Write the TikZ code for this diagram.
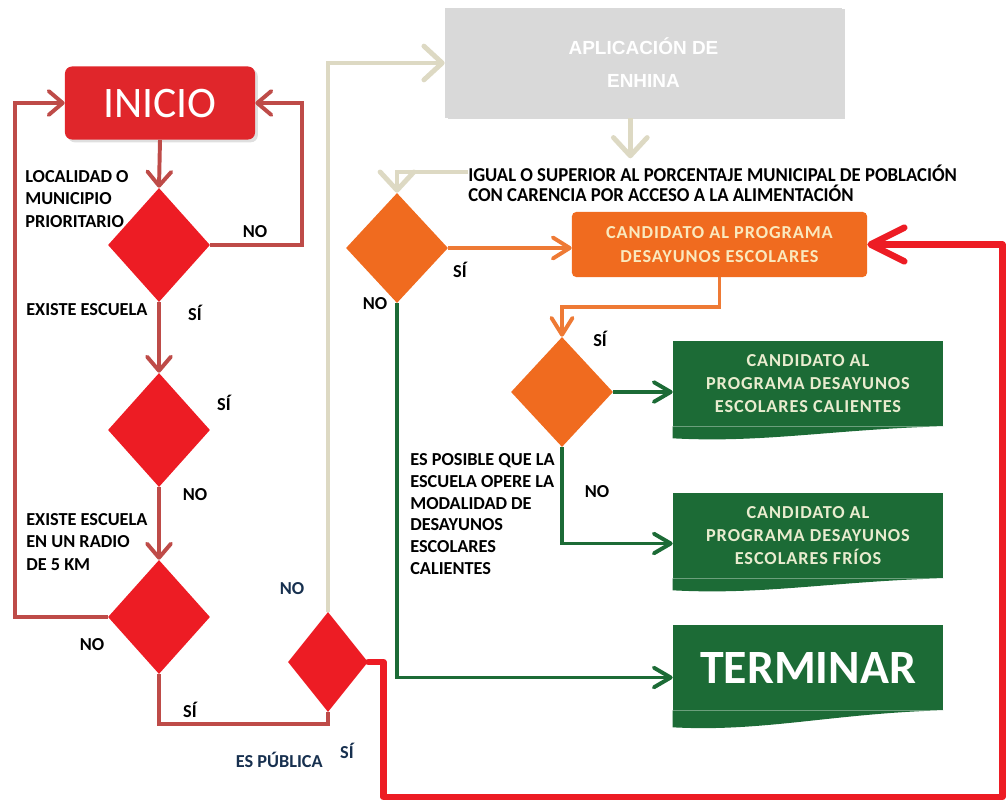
\documentclass[tikz,border=0pt]{standalone}
\usepackage{fontspec}
\setmainfont{Carlito}
\newfontfamily\arialfont{Liberation Sans}
\newfontfamily\narrowfont{Carlito}[FakeStretch=0.95]
\newfontfamily\widefont{Carlito}[LetterSpace=5]
\usetikzlibrary{shapes.geometric,arrows.meta,shadows}

\definecolor{dkred}{RGB}{190,75,72}
\definecolor{redfill}{RGB}{237,28,36}
\definecolor{iniciored}{RGB}{224,38,43}
\definecolor{tan}{RGB}{221,217,195}
\definecolor{orng}{RGB}{240,107,31}
\definecolor{orline}{RGB}{238,122,53}
\definecolor{grn}{RGB}{28,107,54}
\definecolor{navy}{RGB}{23,48,79}
\definecolor{greybox}{RGB}{217,217,217}
\definecolor{paleyel}{RGB}{250,233,190}
\definecolor{paletext}{RGB}{233,236,207}

\begin{document}
\begin{tikzpicture}[%
      x=0.025cm, y=-0.025cm,
      decision/.style={diamond, fill=redfill, inner sep=0pt,
        minimum width=2.55cm, minimum height=2.85cm},
      ordecision/.style={diamond, fill=orng, inner sep=0pt,
        minimum width=2.55cm, minimum height=2.75cm},
      greencard/.style={rectangle, fill=grn, text=paletext, inner sep=0pt,
        minimum width=6.75cm, minimum height=2.125cm, align=center,
        font=\widefont\bfseries\fontsize{13}{16.5}\selectfont},
      txt/.style={inner sep=0pt, align=left, font=\bfseries\fontsize{13}{16}\selectfont},
      navytxt/.style={txt, text=navy},
      redarrow/.style={draw=dkred, line width=2.8pt,
        -{Straight Barb[length=10pt,width=17pt,round]}},
      tanarrow/.style={draw=tan, line width=3.5pt,
        -{Straight Barb[length=13pt,width=24pt,round]}},
      orarrow/.style={draw=orline, line width=2.8pt,
        -{Straight Barb[length=12pt,width=15pt,round]}},
      grnarrow/.style={draw=grn, line width=2.8pt,
        -{Straight Barb[length=12pt,width=14pt,round]}},
      ]
      \useasboundingbox (0,0) rectangle (1006,804);

      % left column
      \node (inicio) [fill=iniciored, rounded corners=5pt, text=white,
        minimum width=4.75cm, minimum height=1.825cm,
        drop shadow={opacity=0.25, shadow xshift=2pt, shadow yshift=-2pt},
        font=\fontsize{31}{31}\selectfont] at (160,103) {INICIO};
      \node (loc) [decision] at (159,245) {};
      \node (esc) [decision] at (159,430) {};
      \node (rad) [decision] at (159,617) {};
      \node (pub) [decision, minimum width=2cm, minimum height=2.5cm] at (328,662) {};

      \draw [redarrow] (inicio.south) -- (loc.north);
      \draw [redarrow] (loc.east) -- ++(92,0) |- (inicio.east);
      \draw [redarrow] (loc.south) -- (esc.north);
      \draw [redarrow] (esc.south) -- (rad.north);
      \draw [redarrow] (rad.west) -- ++(-93,0) |- (inicio.west);
      \draw [draw=dkred, line width=2.8pt] (rad.south) -- ++(0,50) -| (pub.south);

      \node (t1) [txt, anchor=west] at (25,199) {LOCALIDAD O\\MUNICIPIO\\PRIORITARIO};
      \node (t2) [txt] at (255,232) {NO};
      \node (t3) [txt, anchor=west] at (26,310) {EXISTE ESCUELA};
      \node (t4) [txt] at (195,313) {SÍ};
      \node (t5) [txt] at (224,403) {SÍ};
      \node (t6) [txt] at (195,495) {NO};
      \node (t7) [txt, anchor=west] at (26,542) {EXISTE ESCUELA\\EN UN RADIO\\DE 5 KM};
      \node (t8) [txt] at (92,645) {NO};
      \node (t9) [txt] at (190,710) {SÍ};
      \node (t10) [navytxt] at (292,589) {NO};
      \node (t11) [navytxt, anchor=east] at (323,760) {ES PÚBLICA};
      \node (t12) [navytxt] at (347,751) {SÍ};

      % right part
      \node (enhina) [fill=greybox, text=white, minimum width=9.925cm, minimum height=2.75cm,
        drop shadow={opacity=0.3, shadow xshift=2pt, shadow yshift=-1pt},
        font=\arialfont\bfseries\fontsize{13.5}{23.5}\selectfont, align=center]
        at (643.5,63) {APLICACIÓN DE\\ENHINA};
      \node (igual) [inner sep=0pt, anchor=west, align=left,
        font=\narrowfont\bfseries\fontsize{14}{14.3}\selectfont] at (468,183)
        {IGUAL O SUPERIOR AL PORCENTAJE MUNICIPAL DE POBLACIÓN\\CON CARENCIA POR ACCESO A LA ALIMENTACIÓN};
      \node (pct) [ordecision] at (397,248) {};
      \node (cand) [fill=orng, rounded corners=3pt, text=paleyel, align=center,
        minimum width=7.375cm, minimum height=1.625cm,
        font=\widefont\bfseries\fontsize{13}{17.5}\selectfont] at (719.5,244.5)
        {CANDIDATO AL PROGRAMA\\DESAYUNOS ESCOLARES};
      \node (modal) [ordecision] at (562,392) {};
      \node (cal) [greencard] at (808,383.5) {CANDIDATO AL\\PROGRAMA DESAYUNOS\\ESCOLARES CALIENTES};
      \node (fri) [greencard] at (808,535.5) {CANDIDATO AL\\PROGRAMA DESAYUNOS\\ESCOLARES FRÍOS};
      \node (fin) [greencard, text=white, font=\bfseries\fontsize{34}{34}\selectfont]
        at (808,667.5) {TERMINAR};
      \foreach \b/\d in {cal/12, fri/12, fin/17}
        \fill [grn] (\b.south west) -- ++(0,\d) .. controls +(90,5) and +(-110,3) .. (\b.south east) -- cycle;

      \draw [tanarrow] (pub.north) |- (enhina.west);
      \draw [tanarrow] ([xshift=-0.33cm]enhina.south) -- ++(0,40);
      \draw [tanarrow] ([yshift=0.275cm]igual.west) -| (pct.north);
      \draw [orarrow] (pct.east) -- (pct.east -| cand.west);
      \draw [orarrow] (cand.south) -- ++(0,30) -| (modal.north);
      \draw [grnarrow] (modal.east) -- (modal.east -| cal.west);
      \draw [grnarrow] (modal.south) |- ([yshift=-0.2cm]fri.west);
      \draw [grnarrow] (pct.south) |- ([yshift=-0.25cm]fin.west);
      \draw [draw=redfill, line width=4.6pt, line cap=round, line join=round,
        -{Straight Barb[length=24pt,width=24pt,round]}]
        (pub.east) -- ++(15,0) -- ++(0,135) -- ++(619,0) |- (cand.east);

      \node (t13) [txt] at (460,270) {SÍ};
      \node (t14) [txt] at (375,304) {NO};
      \node (t15) [txt] at (600,339) {SÍ};
      \node (t16) [txt] at (597,492) {NO};
      \node (t17) [txt, anchor=west, font=\bfseries\fontsize{13}{15.4}\selectfont] at (410,514)
        {ES POSIBLE QUE LA\\ESCUELA OPERE LA\\MODALIDAD DE\\DESAYUNOS\\ESCOLARES\\CALIENTES};
\end{tikzpicture}
\end{document}
